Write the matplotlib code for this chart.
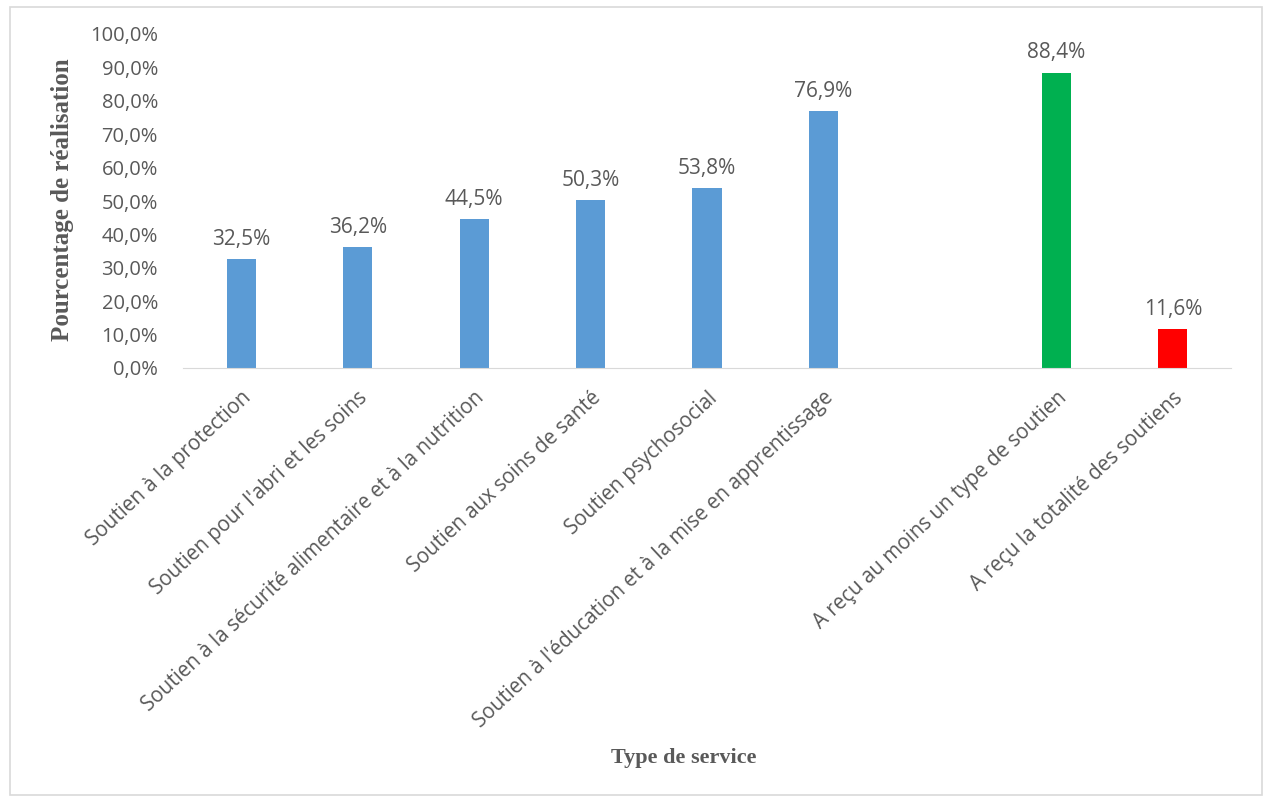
import matplotlib.pyplot as plt
from matplotlib.patches import Rectangle
from matplotlib.ticker import FuncFormatter

# Data (percent); the empty string keeps the gap before the two summary bars
categories = [
    "Soutien à la protection",
    "Soutien pour l'abri et les soins",
    "Soutien à la sécurité alimentaire et à la nutrition",
    "Soutien aux soins de santé",
    "Soutien psychosocial",
    "Soutien à l'éducation et à la mise en apprentissage",
    "",
    "A reçu au moins un type de soutien",
    "A reçu la totalité des soutiens",
]
values = [32.5, 36.2, 44.5, 50.3, 53.8, 76.9, None, 88.4, 11.6]
bar_colors = ["#5B9BD5"] * 6 + ["none", "#00B050", "#FF0000"]

TEXT_GRAY = "#595959"
SANS = ["Open Sans", "DejaVu Sans"]
SERIF = ["Liberation Serif", "DejaVu Serif"]

fig = plt.figure(figsize=(12.68, 8), dpi=100)
ax = fig.add_axes([0.1443, 0.54, 0.8265, 0.4175])

# outer chart border
fig.patches.append(Rectangle((10 / 1268, 5 / 800), 1252 / 1268, 788 / 800,
                             transform=fig.transFigure, fill=False,
                             edgecolor="#D9D9D9", linewidth=1.2))

x = list(range(len(categories)))
for xi, v, c in zip(x, values, bar_colors):
    if v is None:
        continue
    ax.bar(xi, v, width=0.25, color=c, zorder=2)
    ax.text(xi, v + 2.8, f"{v:.1f}%".replace(".", ","), ha="center", va="bottom",
            fontsize=15, color=TEXT_GRAY, family=SANS)

ax.set_xlim(-0.5, len(categories) - 0.5)
ax.set_ylim(0, 100)
ax.set_yticks(range(0, 101, 10))
ax.yaxis.set_major_formatter(FuncFormatter(lambda v, p: f"{v:.1f}%".replace(".", ",")))
ax.set_xticks(x)
ax.set_xticklabels(categories, rotation=43, ha="right", rotation_mode="anchor")

for lab in ax.get_xticklabels():
    lab.set_family(SANS)
    lab.set_fontsize(14.8)
    lab.set_color(TEXT_GRAY)
for lab in ax.get_yticklabels():
    lab.set_family(SANS)
    lab.set_fontsize(14.5)
    lab.set_color(TEXT_GRAY)

ax.tick_params(axis="both", length=0)
ax.tick_params(axis="x", pad=14)
ax.tick_params(axis="y", pad=18)

for side in ["top", "right", "left"]:
    ax.spines[side].set_visible(False)
ax.spines["bottom"].set_color("#D9D9D9")

fig.text(0.049, 0.75, "Pourcentage de réalisation", rotation=90, ha="center", va="center",
         fontsize=18, fontweight="bold", family=SERIF, color=TEXT_GRAY)
fig.text(0.539, 0.052, "Type de service", ha="center", va="center",
         fontsize=16, fontweight="bold", family=SERIF, color=TEXT_GRAY)

plt.savefig("out.png", dpi=100)
